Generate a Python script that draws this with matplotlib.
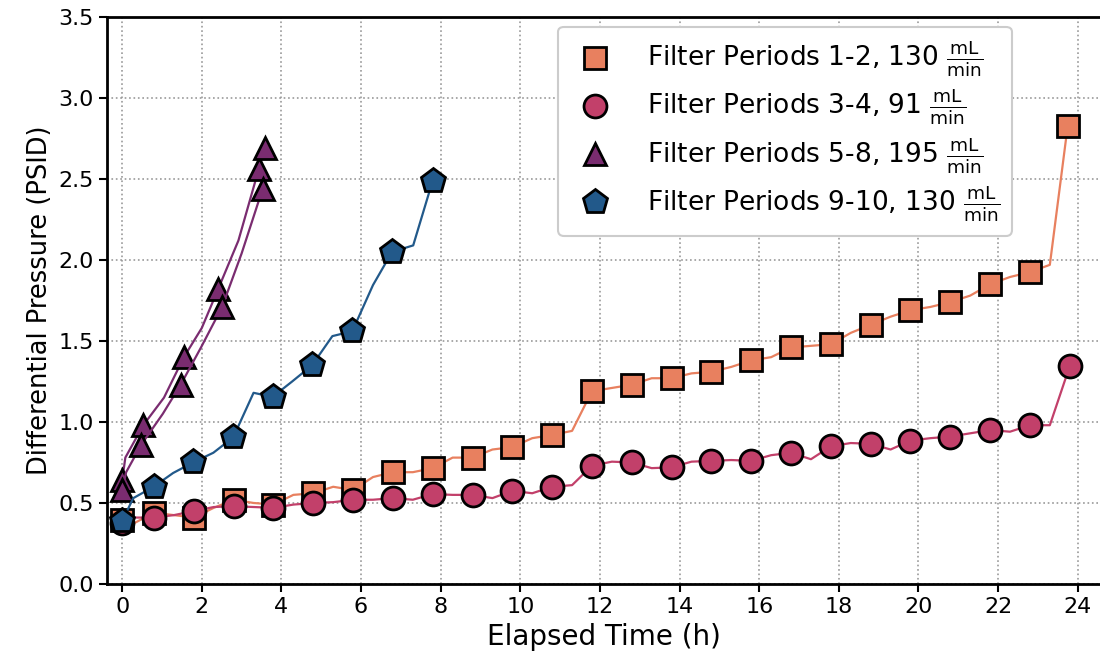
import matplotlib
matplotlib.use("Agg")
import matplotlib.pyplot as plt
from matplotlib.lines import Line2D

plt.rcParams['font.family'] = ['DejaVu Sans']
plt.rcParams['mathtext.fontset'] = 'dejavusans'

# ---- data ----
t_fp12 = [0, 0.3, 0.8, 1.3, 1.8, 2.3, 2.8, 3.3, 3.8, 4.3, 4.8, 5.3, 5.8, 6.3, 6.8, 7.3,
          7.8, 8.3, 8.8, 9.3, 9.8, 10.3, 10.8, 11.3, 11.8, 12.3, 12.8, 13.3, 13.8, 14.3,
          14.8, 15.3, 15.8, 16.3, 16.8, 17.3, 17.8, 18.3, 18.8, 19.3, 19.8, 20.3, 20.8,
          21.3, 21.8, 22.3, 22.8, 23.3, 23.75]
p_fp12 = [0.395, 0.375, 0.44, 0.425, 0.41, 0.47, 0.52, 0.50, 0.49, 0.55, 0.56, 0.60,
          0.58, 0.66, 0.69, 0.69, 0.715, 0.78, 0.78, 0.83, 0.845, 0.90, 0.92, 0.945,
          1.19, 1.21, 1.23, 1.27, 1.27, 1.30, 1.31, 1.34, 1.38, 1.40, 1.46, 1.47, 1.48,
          1.55, 1.60, 1.65, 1.69, 1.71, 1.74, 1.78, 1.85, 1.895, 1.925, 1.97, 2.83]
t_fp34 = [0, 0.3, 0.8, 1.3, 1.8, 2.3, 2.8, 3.3, 3.8, 4.3, 4.8, 5.3, 5.8, 6.3, 6.8, 7.3,
          7.8, 8.3, 8.8, 9.3, 9.8, 10.3, 10.8, 11.3, 11.8, 12.3, 12.8, 13.3, 13.8, 14.3,
          14.8, 15.3, 15.8, 16.3, 16.8, 17.3, 17.8, 18.3, 18.8, 19.3, 19.8, 20.3, 20.8,
          21.3, 21.8, 22.3, 22.8, 23.3, 23.8]
p_fp34 = [0.375, 0.41, 0.41, 0.425, 0.45, 0.475, 0.48, 0.475, 0.47, 0.49, 0.50, 0.505,
          0.52, 0.52, 0.53, 0.52, 0.555, 0.55, 0.55, 0.53, 0.575, 0.56, 0.60, 0.61,
          0.73, 0.755, 0.75, 0.715, 0.72, 0.755, 0.76, 0.765, 0.76, 0.795, 0.81, 0.77,
          0.85, 0.87, 0.865, 0.83, 0.885, 0.90, 0.91, 0.93, 0.95, 0.94, 0.98, 0.98, 1.345]
t_fp58a = [0, 0.08, 0.53, 1.05, 1.55, 2.0, 2.41, 2.92, 3.43, 3.58]
p_fp58a = [0.64, 0.78, 0.98, 1.15, 1.40, 1.58, 1.82, 2.12, 2.56, 2.69]
t_fp58b = [0, 0.1, 0.48, 1.02, 1.47, 1.98, 2.51, 3.0, 3.53]
p_fp58b = [0.58, 0.69, 0.86, 1.05, 1.23, 1.46, 1.71, 2.04, 2.44]
t_fp910 = [0, 0.28, 0.79, 1.28, 1.78, 2.29, 2.79, 3.3, 3.78, 4.27, 4.77, 5.28, 5.78,
           6.3, 6.78, 7.31, 7.8]
p_fp910 = [0.39, 0.53, 0.60, 0.685, 0.75, 0.81, 0.905, 1.18, 1.155, 1.25, 1.35, 1.53,
           1.56, 1.845, 2.05, 2.09, 2.49]

labels = [r'Filter Periods 1-2, 130 $\frac{\mathrm{mL}}{\mathrm{min}}$',
          r'Filter Periods 3-4, 91 $\frac{\mathrm{mL}}{\mathrm{min}}$',
          r'Filter Periods 5-8, 195 $\frac{\mathrm{mL}}{\mathrm{min}}$',
          r'Filter Periods 9-10, 130 $\frac{\mathrm{mL}}{\mathrm{min}}$']
colors = ['#E8805F', '#C2406A', '#7A2C70', '#22598A']
markers = ['s', 'o', '^', 'p']
xticks = [0, 2, 4, 6, 8, 10, 12, 14, 16, 18, 20, 22, 24]
yticks = [0.0, 0.5, 1.0, 1.5, 2.0, 2.5, 3.0, 3.5]

fig = plt.figure(figsize=(11, 6.71), dpi=100)
ax = fig.add_axes([0.0973, 0.1297, 0.9027, 0.8450])

MS = 16.5
mk = dict(markeredgecolor='black', markeredgewidth=2, markersize=MS, linewidth=1.6)
ax.plot(t_fp12, p_fp12, marker=markers[0], color=colors[0], markevery=2, zorder=3, **mk)
ax.plot(t_fp34, p_fp34, marker=markers[1], color=colors[1], markevery=2, zorder=3, **mk)
ax.plot(t_fp58a, p_fp58a, marker=markers[2], color=colors[2], markevery=[0, 2, 4, 6, 8, 9], zorder=3, **mk)
ax.plot(t_fp58b, p_fp58b, marker=markers[2], color=colors[2], markevery=[0, 2, 4, 6, 8], zorder=3, **mk)
ax.plot(t_fp910, p_fp910, marker=markers[3], color=colors[3], markevery=2, zorder=4,
        markeredgecolor='black', markeredgewidth=2, markersize=MS + 2, linewidth=1.6)

ax.set_xlim(-0.38, 24.56)
ax.set_ylim(0, 3.5)
ax.set_xticks(xticks)
ax.set_yticks(yticks)
ax.set_yticklabels([f'{v:.1f}' for v in yticks])
ax.tick_params(labelsize=16, width=1.5, length=6, direction='out')
ax.grid(True, linestyle=':', color='#999999', linewidth=1.2)
ax.set_axisbelow(True)
for s in ['left', 'top', 'bottom']:
    ax.spines[s].set_linewidth(2)
ax.spines['right'].set_visible(False)
ax.set_xlabel('Elapsed Time (h)', fontsize=20)
ax.set_ylabel('Differential Pressure (PSID)', fontsize=18.5)

handles = [Line2D([], [], linestyle='none', marker=m, markersize=MS + (2 if m == 'p' else 0),
                  markerfacecolor=c, markeredgecolor='black', markeredgewidth=2)
           for m, c in zip(markers, colors)]
leg = ax.legend(handles, labels, loc='upper right', bbox_to_anchor=(0.911, 0.982),
                borderaxespad=0, fontsize=19, handlelength=1.9, handletextpad=1.0,
                borderpad=0.45, labelspacing=0.3, fancybox=True, framealpha=1,
                edgecolor='#cccccc')
leg.get_frame().set_linewidth(1.5)

fig.savefig('out.png', dpi=100)
